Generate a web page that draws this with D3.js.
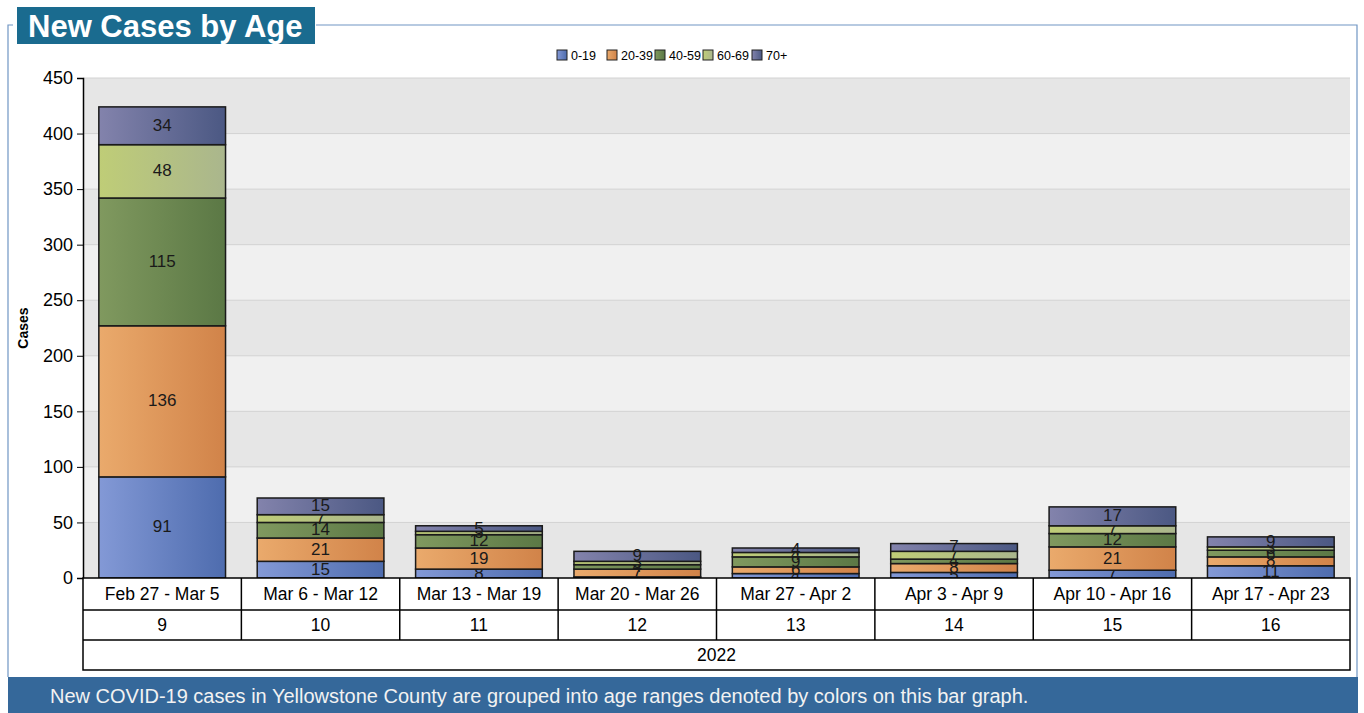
<!DOCTYPE html>
<html>
<head>
<meta charset="utf-8">
<script src="https://cdn.jsdelivr.net/npm/d3@7"></script>
<style>
  body { margin: 0; background: #fff; }
  text { font-family: "Liberation Sans", Arial, sans-serif; }
</style>
</head>
<body>
<div id="chart"></div>
<script>
const weeks = ['Feb 27 - Mar 5', 'Mar 6 - Mar 12', 'Mar 13 - Mar 19', 'Mar 20 - Mar 26',
               'Mar 27 - Apr 2', 'Apr 3 - Apr 9', 'Apr 10 - Apr 16', 'Apr 17 - Apr 23'];
const weekNums = ['9', '10', '11', '12', '13', '14', '15', '16'];
const year = '2022';
const ages = ['0-19', '20-39', '40-59', '60-69', '70+'];
const age0_19  = [91, 15, 8, 1, 4, 5, 7, 11];
const age20_39 = [136, 21, 19, 7, 6, 8, 21, 8];
const age40_59 = [115, 14, 12, 4, 9, 4, 12, 6];
const age60_69 = [48, 7, 3, 3, 4, 7, 7, 3];
const age70    = [34, 15, 5, 9, 4, 7, 17, 9];
const yTicks = [0, 50, 100, 150, 200, 250, 300, 350, 400, 450];
const colorsLight = ['#8399d6', '#eaaa6c', '#80995f', '#bfcd77', '#8383ac'];
const colorsDark  = ['#4e6cae', '#d18349', '#5b7845', '#aab68d', '#4b5883'];

const W = 1364, H = 713;
const margin = { left: 83, right: 14, top: 78, bottom: 135 };
const svg = d3.select('#chart').append('svg').attr('width', W).attr('height', H);

const defs = svg.append('defs');
ages.forEach((a, i) => {
  const g = defs.append('linearGradient').attr('id', 'grad' + i)
    .attr('x1', '0%').attr('x2', '100%').attr('y1', '0%').attr('y2', '0%');
  g.append('stop').attr('offset', '0%').attr('stop-color', colorsLight[i]);
  g.append('stop').attr('offset', '100%').attr('stop-color', colorsDark[i]);
});

// outer frame
svg.append('path')
  .attr('d', `M8,${H - 36} L8,25 L13,25 M316,25 L1357,25 L1357,${H - 36}`)
  .attr('fill', 'none').attr('stroke', '#7096c4').attr('stroke-width', 1.2);

// title
svg.append('rect').attr('x', 17).attr('y', 7).attr('width', 298).attr('height', 37).attr('fill', '#1a6b8f');
svg.append('text').attr('x', 28).attr('y', 37).attr('font-size', 31).attr('font-weight', 'bold')
  .attr('fill', '#fff').text('New Cases by Age');

// footer
svg.append('rect').attr('x', 8).attr('y', H - 36).attr('width', 1350).attr('height', 36).attr('fill', '#35689a');
svg.append('text').attr('x', 50).attr('y', H - 10).attr('font-size', 20).attr('fill', '#f2f2f2')
  .text('New COVID-19 cases in Yellowstone County are grouped into age ranges denoted by colors on this bar graph.');

const x0 = margin.left, x1 = W - margin.right;
const y0 = 578, yTop = margin.top;

const x = d3.scaleBand().domain(weeks).range([x0, x1]).paddingInner(0.2).paddingOuter(0.1);
const y = d3.scaleLinear().domain([0, 450]).range([y0, yTop]);

// plot background bands
const g = svg.append('g');
g.selectAll('rect.band').data(yTicks.slice(0, -1)).enter().append('rect')
  .attr('class', 'band')
  .attr('x', x0).attr('width', x1 - x0)
  .attr('y', d => y(d + 50)).attr('height', d => y(d) - y(d + 50))
  .attr('fill', (d, i) => i % 2 === 0 ? '#e6e6e6' : '#f0f0f0');
g.selectAll('line.grid').data(yTicks.slice(1)).enter().append('line')
  .attr('class', 'grid')
  .attr('x1', x0).attr('x2', x1).attr('y1', d => y(d)).attr('y2', d => y(d))
  .attr('stroke', '#d2d2d2').attr('stroke-width', 1);

// y axis
const yAxis = g.append('g').attr('transform', `translate(${x0},0)`)
  .call(d3.axisLeft(y).tickValues(yTicks).tickSize(6).tickPadding(4));
yAxis.select('.domain').attr('stroke', '#000').attr('stroke-width', 1.5);
yAxis.selectAll('.tick line').attr('stroke', '#000');
yAxis.selectAll('text').attr('font-size', 18).attr('fill', '#000')
  .attr('font-family', '"Liberation Sans", Arial, sans-serif');

svg.append('text').attr('transform', `translate(28,${(y0 + yTop) / 2}) rotate(-90)`)
  .attr('text-anchor', 'middle').attr('font-size', 14).attr('font-weight', 'bold').text('Cases');

// stacked bars
const series = [age0_19, age20_39, age40_59, age60_69, age70];
const rows = weeks.map((w, i) => {
  const r = { week: w };
  ages.forEach((a, j) => { r[a] = series[j][i]; });
  return r;
});
const stack = d3.stack().keys(ages)(rows);

const layers = g.selectAll('g.layer').data(stack).enter().append('g')
  .attr('class', 'layer').attr('fill', (d, i) => `url(#grad${i})`);
layers.selectAll('rect').data(d => d).enter().append('rect')
  .attr('x', d => x(d.data.week)).attr('width', x.bandwidth())
  .attr('y', d => y(d[1])).attr('height', d => y(d[0]) - y(d[1]))
  .attr('stroke', '#1a1a1a').attr('stroke-width', 1.5);
layers.selectAll('text').data(d => d).enter().append('text')
  .attr('x', d => x(d.data.week) + x.bandwidth() / 2)
  .attr('y', d => (y(d[0]) + y(d[1])) / 2 + 5)
  .attr('text-anchor', 'middle').attr('font-size', 17).attr('fill', '#1a1a1a')
  .text(d => d[1] - d[0]);

// category table
const step = (x1 - x0) / weeks.length;
const table = svg.append('g');
const rowY = [578, 610, 640, 670];
table.append('rect').attr('x', x0).attr('y', rowY[0]).attr('width', x1 - x0).attr('height', rowY[3] - rowY[0])
  .attr('fill', '#fff').attr('stroke', '#000').attr('stroke-width', 1.5);
[rowY[1], rowY[2]].forEach(yy => table.append('line')
  .attr('x1', x0).attr('x2', x1).attr('y1', yy).attr('y2', yy).attr('stroke', '#000').attr('stroke-width', 1.5));
weeks.slice(1).forEach((w, i) => table.append('line')
  .attr('x1', x0 + step * (i + 1)).attr('x2', x0 + step * (i + 1))
  .attr('y1', rowY[0]).attr('y2', rowY[2]).attr('stroke', '#000').attr('stroke-width', 1.5));
table.selectAll('text.wk').data(weeks).enter().append('text').attr('class', 'wk')
  .attr('x', (d, i) => x0 + step * (i + 0.5)).attr('y', 600)
  .attr('text-anchor', 'middle').attr('font-size', 17.5).text(d => d);
table.selectAll('text.num').data(weekNums).enter().append('text').attr('class', 'num')
  .attr('x', (d, i) => x0 + step * (i + 0.5)).attr('y', 631)
  .attr('text-anchor', 'middle').attr('font-size', 17.5).text(d => d);
table.append('text').attr('x', (x0 + x1) / 2).attr('y', 661)
  .attr('text-anchor', 'middle').attr('font-size', 17.5).text(year);

// legend
const legendX = [557, 607, 655, 703, 752];
const legend = svg.append('g').attr('transform', 'translate(0,50)');
const item = legend.selectAll('g').data(ages).enter().append('g')
  .attr('transform', (d, i) => `translate(${legendX[i]},0)`);
item.append('rect').attr('width', 10).attr('height', 10)
  .attr('fill', (d, i) => `url(#grad${i})`).attr('stroke', '#222').attr('stroke-width', 1);
item.append('text').attr('x', 14).attr('y', 10).attr('font-size', 12.5).text(d => d);
</script>
</body>
</html>
